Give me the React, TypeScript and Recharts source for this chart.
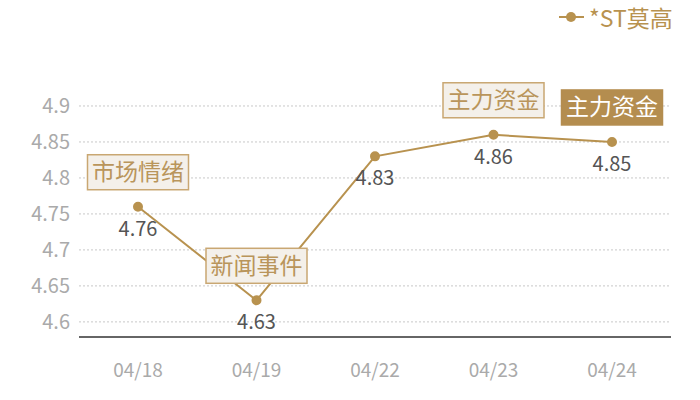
import { LineChart, Line, XAxis, YAxis, CartesianGrid, LabelList } from "recharts";

const dates = ["04/18", "04/19", "04/22", "04/23", "04/24"];
const prices = [4.76, 4.63, 4.83, 4.86, 4.85];
const notes = ["市场情绪", "新闻事件", null, "主力资金", "主力资金"];
const highlighted = [false, false, false, false, true];
const yTicks = [4.6, 4.65, 4.7, 4.75, 4.8, 4.85, 4.9];
const yDomain = [4.579, 4.95];
const seriesName = "*ST莫高";

const data = dates.map((d, i) => ({
  date: d,
  price: prices[i],
  note: notes[i],
  hl: highlighted[i],
}));

const GOLD = "#b8924f";
const FONT = '"Noto Sans CJK SC", "Noto Sans", sans-serif';

// grid only at the tick values (no line at the top edge of the plot)
function gridRows(args: any) {
  const { yAxis, offset } = args;
  if (yAxis && typeof yAxis.scale === "function") {
    return yTicks.map((t) => yAxis.scale(t));
  }
  const [lo, hi] = yDomain;
  return yTicks.map((t) => offset.top + (offset.height * (hi - t)) / (hi - lo));
}

function ValueLabel(props: any) {
  const { x, y, value } = props;
  return (
    <text x={x} y={y + 29} textAnchor="middle" fill="#555" fontSize={20} fontFamily={FONT}>
      {value}
    </text>
  );
}

function NoteLabel(props: any) {
  const { x, y, index } = props;
  const note = notes[index];
  if (!note) return null;
  const hl = highlighted[index];
  const w = 101;
  const h = 35;
  return (
    <g>
      <rect
        x={x - w / 2}
        y={y - 17 - h}
        width={w}
        height={h}
        fill={hl ? "#b48d4f" : "#f4f0ea"}
        stroke={hl ? "#b48d4f" : "#c9a772"}
        strokeWidth={1.5}
      />
      <text
        x={x}
        y={y - 17 - h / 2 + 8}
        textAnchor="middle"
        fill={hl ? "#fff" : "#b9955b"}
        fontSize={23}
        fontFamily={FONT}
      >
        {note}
      </text>
    </g>
  );
}

function LegendBox() {
  return (
    <svg width={700} height={60} style={{ position: "absolute", left: 0, top: 0, overflow: "visible" }}>
      <line x1={559} y1={17} x2={584} y2={17} stroke={GOLD} strokeWidth={2} />
      <circle cx={571} cy={17} r={5} fill={GOLD} />
      <text x={589} y={17} dominantBaseline="central" fill={GOLD} fontSize={23} fontFamily={FONT}>
        {seriesName}
      </text>
    </svg>
  );
}

export default function App() {
  return (
    <div style={{ position: "absolute", left: 0, top: 0, width: 700, height: 400, background: "#fff" }}>
      <LineChart
        width={700}
        height={400}
        data={data}
        margin={{ top: 70, right: 29, bottom: 0, left: 0 }}
      >
        <CartesianGrid
          vertical={false}
          stroke="#c8c8c8"
          strokeDasharray="2 2"
          horizontalCoordinatesGenerator={gridRows}
        />
        <XAxis
          dataKey="date"
          height={63}
          padding={{ left: 59, right: 59 }}
          axisLine={{ stroke: "#333", strokeWidth: 1.5 }}
          tickLine={false}
          tickSize={0}
          tickMargin={27}
          tick={{ fill: "#aaa", fontSize: 19, fontFamily: FONT }}
        />
        <YAxis
          width={79}
          domain={yDomain}
          ticks={yTicks}
          axisLine={false}
          tickLine={false}
          tickSize={0}
          tickMargin={9}
          tick={{ fill: "#aaa", fontSize: 20, fontFamily: FONT }}
        />
        <Line
          dataKey="price"
          stroke={GOLD}
          strokeWidth={2}
          dot={{ r: 4, fill: GOLD, stroke: GOLD }}
          isAnimationActive={false}
        >
          <LabelList dataKey="price" content={<ValueLabel />} />
          <LabelList dataKey="note" content={<NoteLabel />} />
        </Line>
      </LineChart>
      <LegendBox />
    </div>
  );
}
